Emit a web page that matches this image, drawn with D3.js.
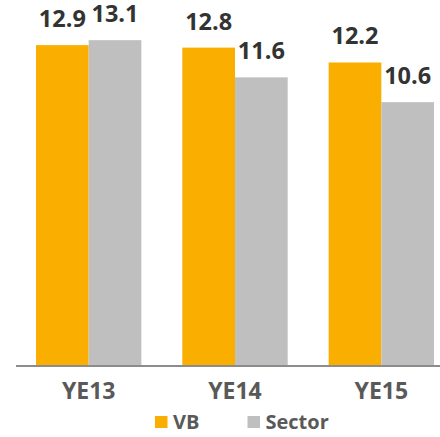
<!DOCTYPE html>
<html>
<head>
<meta charset="utf-8">
<script src="https://cdn.jsdelivr.net/npm/d3@7"></script>
<style>
  body { margin: 0; background: #fff; }
  text { font-family: "Open Sans", sans-serif; }
</style>
</head>
<body>
<div id="chart"></div>
<script>
// data
var categories = ["YE13", "YE14", "YE15"];
var seriesNames = ["VB", "Sector"];
var vbValues = [12.9, 12.8, 12.2];
var sectorValues = [13.1, 11.6, 10.6];
var colors = ["#FAAF00", "#BFBFBF"];

var w = 440, h = 437;
var baseY = 365;

var svg = d3.select("#chart")
  .append("svg")
    .attr("width", w)
    .attr("height", h);

svg.append("rect")
  .attr("width", w)
  .attr("height", h)
  .attr("fill", "white");

var x0 = d3.scaleBand()
  .domain(categories)
  .range([15.5, 454.5])
  .paddingInner(0.28)
  .paddingOuter(0.14);

var x1 = d3.scaleBand()
  .domain(seriesNames)
  .range([0, x0.bandwidth()]);

var yScale = d3.scaleLinear()
  .domain([0, 14.72])
  .range([baseY, 0]);

var rows = categories.map(function (c, i) {
  return { cat: c, vals: [
    { name: "VB", value: vbValues[i] },
    { name: "Sector", value: sectorValues[i] }
  ]};
});

var groups = svg.selectAll("g.grp")
  .data(rows)
  .enter().append("g")
    .attr("class", "grp")
    .attr("transform", d => `translate(${x0(d.cat)},0)`);

groups.selectAll("rect")
  .data(d => d.vals)
  .enter().append("rect")
    .attr("x", d => x1(d.name))
    .attr("y", d => yScale(d.value))
    .attr("width", x1.bandwidth())
    .attr("height", d => baseY - yScale(d.value))
    .attr("fill", (d, i) => colors[i]);

// value labels
groups.selectAll("text.val")
  .data(d => d.vals)
  .enter().append("text")
    .attr("class", "val")
    .attr("x", d => x1(d.name) + x1.bandwidth() / 2)
    .attr("y", d => yScale(d.value) - 18)
    .attr("text-anchor", "middle")
    .attr("font-size", 23.5)
    .attr("font-weight", 700)
    .attr("fill", "#333333")
    .text(d => d.value.toFixed(1));

// x axis
var xAxis = d3.axisBottom(x0).tickSize(0).tickSizeOuter(0);
var gx = svg.append("g")
  .attr("transform", `translate(0, ${baseY + 0.5})`)
  .call(xAxis);
gx.select(".domain")
  .attr("stroke", "#8C8C8C")
  .attr("stroke-width", 2);
gx.selectAll("text")
  .attr("y", 33)
  .attr("dy", 0)
  .attr("font-family", "Open Sans, sans-serif")
  .attr("font-size", 23)
  .attr("font-weight", 700)
  .attr("fill", "#595959");

// legend
var legendX = [155, 247.5];
var legend = svg.selectAll("g.leg")
  .data(seriesNames)
  .enter().append("g")
    .attr("class", "leg")
    .attr("transform", (d, i) => `translate(${legendX[i]}, 416)`);
legend.append("rect")
  .attr("width", 12.5)
  .attr("height", 12)
  .attr("fill", (d, i) => colors[i]);
legend.append("text")
  .attr("x", 18)
  .attr("y", 13.3)
  .attr("font-size", 20)
  .attr("font-weight", 700)
  .attr("fill", "#595959")
  .text(d => d);
</script>
</body>
</html>
